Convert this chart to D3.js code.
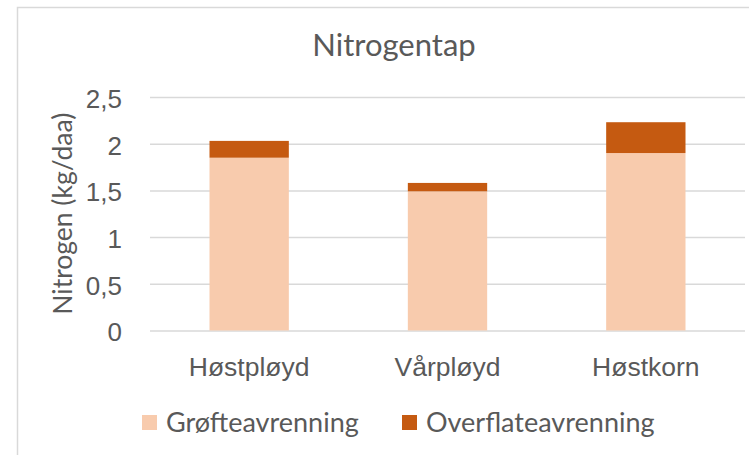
<!DOCTYPE html>
<html>
<head>
<meta charset="utf-8">
<script src="https://cdn.jsdelivr.net/npm/d3@7"></script>
<style>
    html, body { margin: 0; padding: 0; background: #fff; }
    svg { display: block; font-family: Lato, "Open Sans", sans-serif; }
</style>
</head>
<body>
<svg id="chart"></svg>
<script>
// Data
const categories = ['Høstpløyd', 'Vårpløyd', 'Høstkorn'];
const seriesNames = ['Grøfteavrenning', 'Overflateavrenning'];
const grofte = [1.85, 1.49, 1.90];
const overflate = [0.18, 0.09, 0.33];
const yTicks = [0, 0.5, 1, 1.5, 2, 2.5];

const colors = ['#F8CBAD', '#C55A11'];
const textColor = '#595959';
const gridColor = '#D9D9D9';

const width = 749, height = 455;
const plot = { left: 150, right: 745, top: 97, bottom: 330.5 };

const svg = d3.select('#chart')
    .attr('width', width)
    .attr('height', height);

svg.append('rect')
    .attr('width', width).attr('height', height)
    .attr('fill', '#fff');

// chart area border (runs off the right and bottom edges)
svg.append('rect')
    .attr('x', 17.5).attr('y', 7.5)
    .attr('width', 760).attr('height', 470)
    .attr('fill', 'none')
    .attr('stroke', gridColor)
    .attr('stroke-width', 1.5);

// Title
svg.append('text')
    .attr('x', 394).attr('y', 56)
    .attr('text-anchor', 'middle')
    .attr('font-size', '31px')
    .attr('fill', textColor)
    .text('Nitrogentap');

const x = d3.scaleBand()
    .domain(categories)
    .range([plot.left, plot.right])
    .paddingInner(0.6)
    .paddingOuter(0.3);

const y = d3.scaleLinear()
    .domain([0, 2.5])
    .range([plot.bottom, plot.top]);

// Gridlines
const grid = svg.append('g')
    .attr('transform', `translate(${plot.left},0)`)
    .call(d3.axisLeft(y).tickValues(yTicks).tickSize(-(plot.right - plot.left)).tickFormat(''));
grid.select('.domain').remove();
grid.selectAll('line')
    .attr('stroke', gridColor)
    .attr('stroke-width', 1.5);

// Y tick labels
const yAxis = svg.append('g')
    .attr('transform', `translate(${plot.left},0)`)
    .call(d3.axisLeft(y).tickValues(yTicks).tickSize(0).tickPadding(28)
        .tickFormat(d => String(d).replace('.', ',')));
yAxis.select('.domain').remove();
yAxis.selectAll('text')
    .attr('font-family', null)
    .attr('font-size', '26px')
    .attr('fill', textColor)
    .attr('dy', '0.4em');

// Stacked bars
const rows = categories.map((c, i) => ({ cat: c, [seriesNames[0]]: grofte[i], [seriesNames[1]]: overflate[i] }));
const stacked = d3.stack().keys(seriesNames)(rows);

svg.append('g').selectAll('g')
    .data(stacked)
    .join('g')
    .attr('fill', (d, i) => colors[i])
    .selectAll('rect')
    .data(d => d)
    .join('rect')
    .attr('x', d => x(d.data.cat))
    .attr('width', x.bandwidth())
    .attr('y', d => y(d[1]))
    .attr('height', d => y(d[0]) - y(d[1]));

// X axis labels
const xAxis = svg.append('g')
    .attr('transform', `translate(0,${plot.bottom})`)
    .call(d3.axisBottom(x).tickSize(0));
xAxis.select('.domain').remove();
xAxis.selectAll('text')
    .attr('font-family', null)
    .attr('font-size', '26.5px')
    .attr('fill', textColor)
    .attr('y', 45.5)
    .attr('dy', 0);

// Y axis title
svg.append('text')
    .attr('transform', `translate(72,${(plot.top + plot.bottom) / 2}) rotate(-90)`)
    .attr('text-anchor', 'middle')
    .attr('font-size', '26.5px')
    .attr('fill', textColor)
    .text('Nitrogen (kg/daa)');

// Legend
const legendX = [142, 402];
const legend = svg.append('g').selectAll('g')
    .data(seriesNames)
    .join('g')
    .attr('transform', (d, i) => `translate(${legendX[i]},415)`);

legend.append('rect')
    .attr('width', 15).attr('height', 15)
    .attr('fill', (d, i) => colors[i]);

legend.append('text')
    .attr('x', 24).attr('y', 16.5)
    .attr('font-size', '27px')
    .attr('fill', textColor)
    .text(d => d);
</script>
</body>
</html>
